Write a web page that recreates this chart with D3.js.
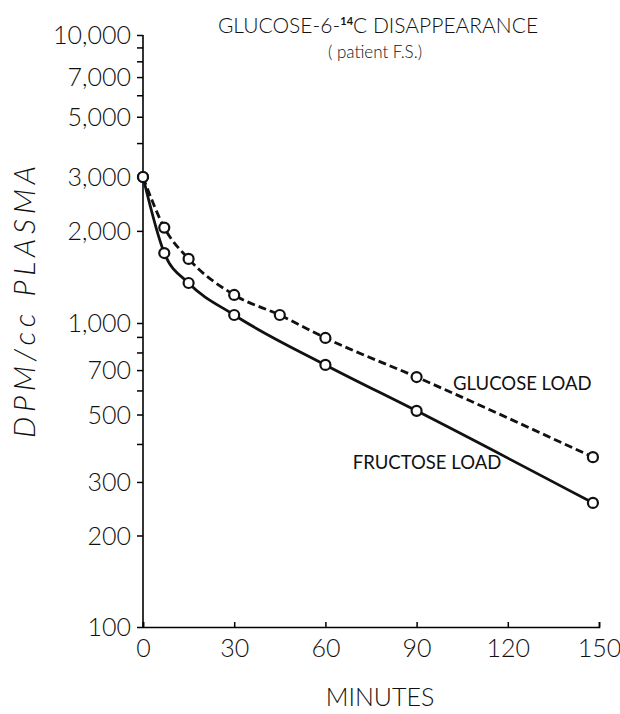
<!DOCTYPE html>
<html>
<head>
<meta charset="utf-8">
<script src="https://cdn.jsdelivr.net/npm/d3@7"></script>
<style>
  body { margin: 0; background: #fff; }
  text { font-family: Lato, "Open Sans", sans-serif; fill: #111; font-weight: 300; }
</style>
</head>
<body>
<svg role="chart" width="620" height="714"></svg>
<script>
// data
var minutes = [0, 7, 15, 30, 45, 60, 90, 148];
var glucoseLoad = [3000, 2050, 1620, 1235, 1062, 893, 664, 362];
var fructoseMinutes = [0, 7, 15, 30, 60, 90, 148];
var fructoseLoad = [3000, 1693, 1351, 1062, 728, 514, 256];

var xTicks = [0, 30, 60, 90, 120, 150];
var yMajor = [100, 200, 300, 500, 700, 1000, 2000, 3000, 5000, 7000, 10000];
var yMinor = [400, 600, 800, 900, 4000, 6000, 8000, 9000];

var svg = d3.select('[role="chart"]');

// scales (hand drawn log paper, so the decades are not quite equal)
var x = d3.scaleLinear().domain([0, 150]).range([143, 599]);
var y = d3.scaleLog().domain([100, 1000, 3000, 10000]).range([627, 323, 177, 35]);

var fmt = d3.format(',');

// y axis
var yAxis = d3.axisLeft(y)
    .tickValues(yMajor.concat(yMinor))
    .tickSize(6)
    .tickFormat(function (d) {
        return yMajor.indexOf(d) > -1 ? fmt(d) : '';
    });
var gy = svg.append('g')
    .attr('transform', 'translate(' + x(0) + ',0)')
    .call(yAxis);
gy.select('.domain').attr('d', 'M0,' + y(10000) + 'V' + (y(100) + 1));
gy.selectAll('line').attr('stroke-width', 1.5);
gy.selectAll('text')
    .attr('x', -12)
    .attr('dy', '0.35em')
    .style('font-size', '25px');

// x axis, ticks point inward
var xAxis = d3.axisBottom(x)
    .tickValues(xTicks)
    .tickSize(-5)
    .tickPadding(12);
var gx = svg.append('g')
    .attr('transform', 'translate(0,' + y(100) + ')')
    .call(xAxis);
gx.selectAll('line').attr('stroke-width', 1.5);
gx.selectAll('text')
    .attr('dy', '0.71em')
    .style('font-size', '25px');

svg.selectAll('.domain').attr('stroke-width', 1.6);

// curves
var line = d3.line()
    .x(function (d) { return x(d[0]); })
    .y(function (d) { return y(d[1]); })
    .curve(d3.curveMonotoneX);

var glucose = d3.zip(minutes, glucoseLoad);
var fructose = d3.zip(fructoseMinutes, fructoseLoad);

svg.append('path')
    .datum(glucose)
    .attr('d', line)
    .attr('fill', 'none')
    .attr('stroke', '#111')
    .attr('stroke-width', 2.8)
    .attr('stroke-dasharray', '8,4');

svg.append('path')
    .datum(fructose)
    .attr('d', line)
    .attr('fill', 'none')
    .attr('stroke', '#111')
    .attr('stroke-width', 2.8);

// open circles
svg.selectAll('circle.pt')
    .data(glucose.concat(fructose))
    .enter()
    .append('circle')
    .attr('class', 'pt')
    .attr('cx', function (d) { return x(d[0]); })
    .attr('cy', function (d) { return y(d[1]); })
    .attr('r', 5)
    .attr('fill', '#fff')
    .attr('stroke', '#111')
    .attr('stroke-width', 2.2);

// series labels
svg.append('text')
    .attr('x', x(102))
    .attr('y', y(664) + 13)
    .style('font-size', '18.5px')
    .style('font-weight', 400)
    .text('GLUCOSE  LOAD');
svg.append('text')
    .attr('x', x(69))
    .attr('y', y(330))
    .style('font-size', '18.5px')
    .style('font-weight', 400)
    .text('FRUCTOSE  LOAD');

// title
var title = svg.append('text')
    .attr('x', 378)
    .attr('y', 33)
    .attr('text-anchor', 'middle')
    .style('font-size', '21px');
title.append('tspan').text('GLUCOSE-6-');
title.append('tspan').attr('dy', -8).style('font-size', '11px').style('font-weight', 700).text('14');
title.append('tspan').attr('dy', 8).text('C  DISAPPEARANCE');

svg.append('text')
    .attr('x', 375)
    .attr('y', 58)
    .attr('text-anchor', 'middle')
    .style('font-size', '17px')
    .text('( patient  F.S.)');

// axis titles
svg.append('text')
    .attr('x', 380)
    .attr('y', 706)
    .attr('text-anchor', 'middle')
    .style('font-size', '25px')
    .text('MINUTES');

svg.append('text')
    .attr('transform', 'translate(35,302) rotate(-90)')
    .attr('text-anchor', 'middle')
    .attr('textLength', 272)
    .attr('lengthAdjust', 'spacing')
    .style('font-size', '30px')
    .style('font-style', 'italic')
    .text('DPM/cc  PLASMA');
</script>
</body>
</html>
